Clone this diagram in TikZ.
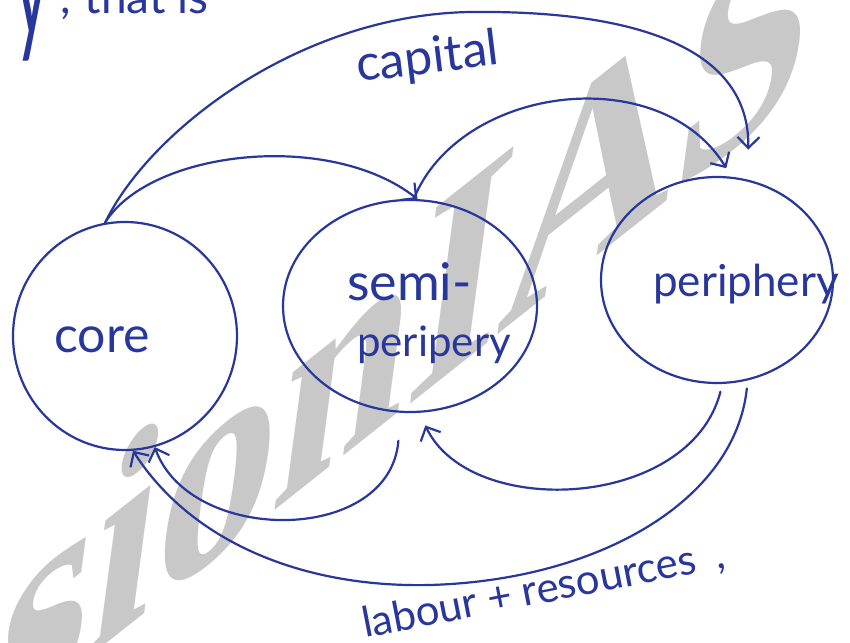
\documentclass[tikz,border=0pt]{standalone}
\usepackage{fontspec}
\usetikzlibrary{arrows.meta,shapes.geometric}
\newfontfamily\handfont{Lato}
\newfontfamily\markfont{Liberation Serif}
\definecolor{ink}{RGB}{40,55,155}
\definecolor{wmgray}{RGB}{200,200,200}
\begin{document}
\begin{tikzpicture}[x=1pt,y=-1pt,
  inkline/.style={draw=ink, line width=2.2pt, line cap=round, line join=round},
  flow/.style={inkline, -{Straight Barb[length=11pt,width=22pt,line width=2.2pt]}},
  region/.style={ellipse, draw=ink, line width=2.2pt, inner sep=0pt},
  hand/.style={text=ink, inner sep=0pt, anchor=base west},
]
\useasboundingbox (0,0) rectangle (850,642);
\clip (0,0) rectangle (850,642);
\fill[white] (0,0) rectangle (850,642);

% background mark
\begin{scope}[shift={(-243,921)}, cm={2.40,1.90,0.40,3.00,(0,0)}]
  \node[transform shape, anchor=base west, inner sep=0pt, text=wmgray,
        font={\markfont\bfseries\fontsize{100}{100}\selectfont}] (wm) at (0,0) {VisionIAS};
\end{scope}

% the three zones
\node[region, minimum width=224pt, minimum height=228pt] (core) at (125,336) {};
\node[region, minimum width=254pt, minimum height=212pt] (semi) at (410,306) {};
\node[region, minimum width=232pt, minimum height=206pt] (peri) at (717,280) {};

% handwritten labels
\node[hand, xscale=0.45, transform shape, font={\handfont\fontsize{150}{150}\selectfont}] (fragy) at (14,36) {y};
\node[hand, font={\handfont\fontsize{46}{46}\selectfont}] (frag) at (60,14) {,\hspace{14pt}that is};
\node[hand, font={\handfont\fontsize{50}{50}\selectfont}] (tcore) at (54,352) {core};
\node[hand, font={\handfont\fontsize{52}{52}\selectfont}] (tsemi) at (347,300) {semi-};
\node[hand, font={\handfont\fontsize{42}{42}\selectfont}] (tsemib) at (357,356) {peripery};
\node[hand, font={\handfont\fontsize{44}{44}\selectfont}] (tperi) at (653,296) {periphery};
\node[hand, rotate=7, font={\handfont\fontsize{50}{50}\selectfont}] (tcap) at (358,82) {capital};
\node[hand, rotate=11, font={\handfont\fontsize{42}{42}\selectfont}] (tlab) at (365,638) {labour + resources\hspace{20pt},};

% flows of capital
\coordinate (capTop) at (470,12);
\draw[flow, shorten >=30pt] (core.100) .. controls (150,130) and (300,15) .. (capTop)
  .. controls (640,10) and (750,50) .. (peri.73);
\draw[flow] (core.100) .. controls (150,150) and (330,130) .. (semi.86);
\draw[flow, shorten >=10pt] (semi.88) .. controls (460,85) and (660,60) .. (peri.82);

% flows of labour and resources
\draw[flow, shorten <=8pt, shorten >=14pt] (peri.-87) .. controls (690,510) and (470,520) .. (semi.-85);
\draw[flow, shorten <=28pt] (semi.-95) .. controls (390,545) and (190,545) .. (core.-75);
\coordinate (lowMid) at (430,585);
\draw[flow, shorten <=8pt] (peri.-73) .. controls (735,500) and (600,580) .. (lowMid)
  .. controls (300,588) and (190,540) .. (core.-86);
\end{tikzpicture}
\end{document}
